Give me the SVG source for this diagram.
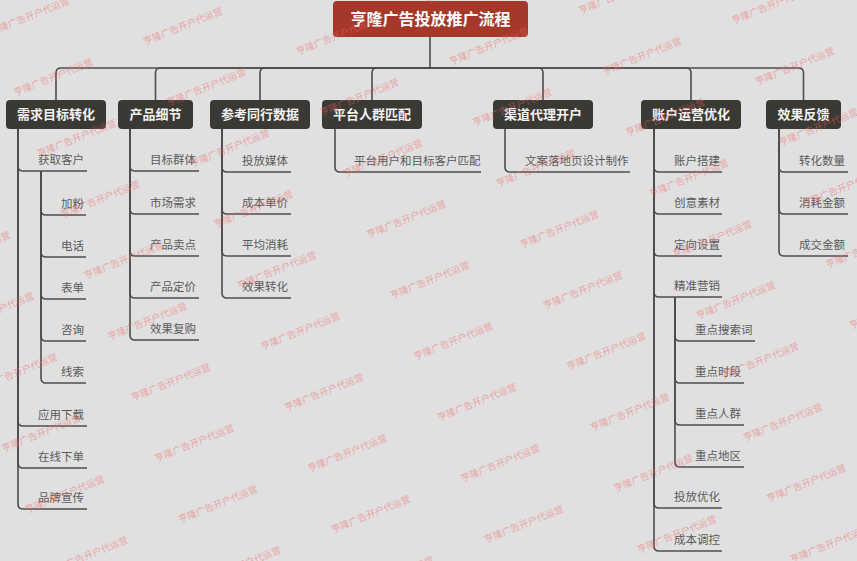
<svg xmlns="http://www.w3.org/2000/svg" width="857" height="561" viewBox="0 0 857 561">
<style>
.bg{fill:#e0e0e0}
.root rect{fill:#a6382a}
.root text{fill:#ffffff;font-family:"Noto Sans CJK SC",sans-serif;font-size:16px;font-weight:bold;text-anchor:middle}
.top rect{fill:#3a3934}
.top text{fill:#f2f2f2;font-family:"Noto Sans CJK SC",sans-serif;font-size:13px;font-weight:bold;text-anchor:middle}
.leaf text{fill:#5a5a5a;font-family:"Noto Sans CJK SC",sans-serif;font-size:11.5px}
.conn path{fill:none;stroke:#4d4d4d;stroke-width:1.6}
.wm text{fill:#f06464;fill-opacity:0.5;font-family:"Noto Sans CJK SC",sans-serif;font-size:9.4px}
</style>
<rect class="bg" x="0" y="0" width="857" height="561"/>

<g id="connectors" class="conn">
<path d="M430 37 V68"/>
<path d="M430 68 H61 Q56 68 56 73 V100"/>
<path d="M430 68 H160.5 Q155.5 68 155.5 73 V100"/>
<path d="M430 68 H265 Q260 68 260 73 V100"/>
<path d="M430 68 H377 Q372 68 372 73 V100"/>
<path d="M430 68 H538 Q543 68 543 73 V100"/>
<path d="M430 68 H686 Q691 68 691 73 V100"/>
<path d="M430 68 H798.5 Q803.5 68 803.5 73 V100"/>
<!-- col1 -->
<path d="M18 129 V166 Q18 171 23 171 H87"/>
<path d="M41 171 V210 Q41 215 46 215 H86"/>
<path d="M41 171 V252 Q41 257 46 257 H86"/>
<path d="M41 171 V294 Q41 299 46 299 H86"/>
<path d="M41 171 V336 Q41 341 46 341 H86"/>
<path d="M41 171 V378 Q41 383 46 383 H86"/>
<path d="M18 129 V421 Q18 426 23 426 H87"/>
<path d="M18 129 V463 Q18 468 23 468 H87"/>
<path d="M18 129 V504 Q18 509 23 509 H87"/>
<!-- col2 -->
<path d="M130 129 V166 Q130 171 135 171 H199"/>
<path d="M130 129 V209 Q130 214 135 214 H199"/>
<path d="M130 129 V251 Q130 256 135 256 H199"/>
<path d="M130 129 V293 Q130 298 135 298 H199"/>
<path d="M130 129 V335 Q130 340 135 340 H199"/>
<!-- col3 -->
<path d="M222 129 V167 Q222 172 227 172 H291"/>
<path d="M222 129 V209 Q222 214 227 214 H291"/>
<path d="M222 129 V251 Q222 256 227 256 H291"/>
<path d="M222 129 V293 Q222 298 227 298 H291"/>
<!-- col4 -->
<path d="M335 129 V167 Q335 172 340 172 H481"/>
<!-- col5 -->
<path d="M505 129 V167 Q505 172 510 172 H630"/>
<!-- col6 -->
<path d="M654 129 V167 Q654 172 659 172 H722"/>
<path d="M654 129 V209 Q654 214 659 214 H722"/>
<path d="M654 129 V251 Q654 256 659 256 H722"/>
<path d="M654 129 V292 Q654 297 659 297 H722"/>
<path d="M675 297 V336 Q675 341 680 341 H755"/>
<path d="M675 297 V378 Q675 383 680 383 H744"/>
<path d="M675 297 V420 Q675 425 680 425 H744"/>
<path d="M675 297 V462 Q675 467 680 467 H744"/>
<path d="M654 129 V503 Q654 508 659 508 H722"/>
<path d="M654 129 V546 Q654 551 659 551 H722"/>
<!-- col7 -->
<path d="M779 129 V167 Q779 172 784 172 H848"/>
<path d="M779 129 V209 Q779 214 784 214 H848"/>
<path d="M779 129 V251 Q779 256 784 256 H848"/>
</g>

<g id="root" class="root"><rect x="333" y="1" width="195" height="36" rx="4"/><text x="430.5" y="25">亨隆广告投放推广流程</text></g>

<g id="n1" class="top"><rect x="6" y="100" width="100" height="29" rx="4"/><text x="56" y="119">需求目标转化</text></g>
<g id="n2" class="top"><rect x="118" y="100" width="75" height="29" rx="4"/><text x="155.5" y="119">产品细节</text></g>
<g id="n3" class="top"><rect x="210" y="100" width="100" height="29" rx="4"/><text x="260" y="119">参考同行数据</text></g>
<g id="n4" class="top"><rect x="322" y="100" width="100" height="29" rx="4"/><text x="372" y="119">平台人群匹配</text></g>
<g id="n5" class="top"><rect x="493" y="100" width="100" height="29" rx="4"/><text x="543" y="119">渠道代理开户</text></g>
<g id="n6" class="top"><rect x="641" y="100" width="100" height="29" rx="4"/><text x="691" y="119">账户运营优化</text></g>
<g id="n7" class="top"><rect x="766" y="100" width="75" height="29" rx="4"/><text x="803.5" y="119">效果反馈</text></g>

<g class="leaf">
<g id="n1-1"><text x="38" y="164">获取客户</text></g>
<g id="n1-1-1"><text x="61" y="208">加粉</text></g>
<g id="n1-1-2"><text x="61" y="250">电话</text></g>
<g id="n1-1-3"><text x="61" y="292">表单</text></g>
<g id="n1-1-4"><text x="61" y="334">咨询</text></g>
<g id="n1-1-5"><text x="61" y="376">线索</text></g>
<g id="n1-2"><text x="38" y="419">应用下载</text></g>
<g id="n1-3"><text x="38" y="461">在线下单</text></g>
<g id="n1-4"><text x="38" y="502">品牌宣传</text></g>

<g id="n2-1"><text x="150" y="164">目标群体</text></g>
<g id="n2-2"><text x="150" y="207">市场需求</text></g>
<g id="n2-3"><text x="150" y="249">产品卖点</text></g>
<g id="n2-4"><text x="150" y="291">产品定价</text></g>
<g id="n2-5"><text x="150" y="333">效果复购</text></g>

<g id="n3-1"><text x="242" y="165">投放媒体</text></g>
<g id="n3-2"><text x="242" y="207">成本单价</text></g>
<g id="n3-3"><text x="242" y="249">平均消耗</text></g>
<g id="n3-4"><text x="242" y="291">效果转化</text></g>

<g id="n4-1"><text x="354" y="165">平台用户和目标客户匹配</text></g>
<g id="n5-1"><text x="525" y="165">文案落地页设计制作</text></g>

<g id="n6-1"><text x="674" y="165">账户搭建</text></g>
<g id="n6-2"><text x="674" y="207">创意素材</text></g>
<g id="n6-3"><text x="674" y="249">定向设置</text></g>
<g id="n6-4"><text x="674" y="290">精准营销</text></g>
<g id="n6-4-1"><text x="695" y="334">重点搜索词</text></g>
<g id="n6-4-2"><text x="695" y="376">重点时段</text></g>
<g id="n6-4-3"><text x="695" y="418">重点人群</text></g>
<g id="n6-4-4"><text x="695" y="460">重点地区</text></g>
<g id="n6-5"><text x="674" y="501">投放优化</text></g>
<g id="n6-6"><text x="674" y="544">成本调控</text></g>

<g id="n7-1"><text x="799" y="165">转化数量</text></g>
<g id="n7-2"><text x="799" y="207">消耗金额</text></g>
<g id="n7-3"><text x="799" y="249">成交金额</text></g>
</g>

<g id="watermark" class="wm">
<text x="427.5" y="4" transform="rotate(-22 427.5 4)">亨隆广告开户代运营</text>
<text x="580.5" y="14" transform="rotate(-22 580.5 14)">亨隆广告开户代运营</text>
<text x="733.5" y="24" transform="rotate(-22 733.5 24)">亨隆广告开户代运营</text>
<text x="-8" y="35" transform="rotate(-22 -8 35)">亨隆广告开户代运营</text>
<text x="145" y="45" transform="rotate(-22 145 45)">亨隆广告开户代运营</text>
<text x="298" y="55" transform="rotate(-22 298 55)">亨隆广告开户代运营</text>
<text x="451" y="65" transform="rotate(-22 451 65)">亨隆广告开户代运营</text>
<text x="604" y="75" transform="rotate(-22 604 75)">亨隆广告开户代运营</text>
<text x="757" y="85" transform="rotate(-22 757 85)">亨隆广告开户代运营</text>
<text x="15.5" y="96" transform="rotate(-22 15.5 96)">亨隆广告开户代运营</text>
<text x="168.5" y="106" transform="rotate(-22 168.5 106)">亨隆广告开户代运营</text>
<text x="321.5" y="116" transform="rotate(-22 321.5 116)">亨隆广告开户代运营</text>
<text x="474.5" y="126" transform="rotate(-22 474.5 126)">亨隆广告开户代运营</text>
<text x="627.5" y="136" transform="rotate(-22 627.5 136)">亨隆广告开户代运营</text>
<text x="780.5" y="146" transform="rotate(-22 780.5 146)">亨隆广告开户代运营</text>
<text x="39" y="157" transform="rotate(-22 39 157)">亨隆广告开户代运营</text>
<text x="192" y="167" transform="rotate(-22 192 167)">亨隆广告开户代运营</text>
<text x="345" y="177" transform="rotate(-22 345 177)">亨隆广告开户代运营</text>
<text x="498" y="187" transform="rotate(-22 498 187)">亨隆广告开户代运营</text>
<text x="651" y="197" transform="rotate(-22 651 197)">亨隆广告开户代运营</text>
<text x="804" y="207" transform="rotate(-22 804 207)">亨隆广告开户代运营</text>
<text x="62.5" y="218" transform="rotate(-22 62.5 218)">亨隆广告开户代运营</text>
<text x="215.5" y="228" transform="rotate(-22 215.5 228)">亨隆广告开户代运营</text>
<text x="368.5" y="238" transform="rotate(-22 368.5 238)">亨隆广告开户代运营</text>
<text x="521.5" y="248" transform="rotate(-22 521.5 248)">亨隆广告开户代运营</text>
<text x="674.5" y="258" transform="rotate(-22 674.5 258)">亨隆广告开户代运营</text>
<text x="827.5" y="268" transform="rotate(-22 827.5 268)">亨隆广告开户代运营</text>
<text x="-67" y="269" transform="rotate(-22 -67 269)">亨隆广告开户代运营</text>
<text x="86" y="279" transform="rotate(-22 86 279)">亨隆广告开户代运营</text>
<text x="239" y="289" transform="rotate(-22 239 289)">亨隆广告开户代运营</text>
<text x="392" y="299" transform="rotate(-22 392 299)">亨隆广告开户代运营</text>
<text x="545" y="309" transform="rotate(-22 545 309)">亨隆广告开户代运营</text>
<text x="698" y="319" transform="rotate(-22 698 319)">亨隆广告开户代运营</text>
<text x="851" y="329" transform="rotate(-22 851 329)">亨隆广告开户代运营</text>
<text x="-43.5" y="330" transform="rotate(-22 -43.5 330)">亨隆广告开户代运营</text>
<text x="109.5" y="340" transform="rotate(-22 109.5 340)">亨隆广告开户代运营</text>
<text x="262.5" y="350" transform="rotate(-22 262.5 350)">亨隆广告开户代运营</text>
<text x="415.5" y="360" transform="rotate(-22 415.5 360)">亨隆广告开户代运营</text>
<text x="568.5" y="370" transform="rotate(-22 568.5 370)">亨隆广告开户代运营</text>
<text x="721.5" y="380" transform="rotate(-22 721.5 380)">亨隆广告开户代运营</text>
<text x="-20" y="391" transform="rotate(-22 -20 391)">亨隆广告开户代运营</text>
<text x="133" y="401" transform="rotate(-22 133 401)">亨隆广告开户代运营</text>
<text x="286" y="411" transform="rotate(-22 286 411)">亨隆广告开户代运营</text>
<text x="439" y="421" transform="rotate(-22 439 421)">亨隆广告开户代运营</text>
<text x="592" y="431" transform="rotate(-22 592 431)">亨隆广告开户代运营</text>
<text x="745" y="441" transform="rotate(-22 745 441)">亨隆广告开户代运营</text>
<text x="3.5" y="452" transform="rotate(-22 3.5 452)">亨隆广告开户代运营</text>
<text x="156.5" y="462" transform="rotate(-22 156.5 462)">亨隆广告开户代运营</text>
<text x="309.5" y="472" transform="rotate(-22 309.5 472)">亨隆广告开户代运营</text>
<text x="462.5" y="482" transform="rotate(-22 462.5 482)">亨隆广告开户代运营</text>
<text x="615.5" y="492" transform="rotate(-22 615.5 492)">亨隆广告开户代运营</text>
<text x="768.5" y="502" transform="rotate(-22 768.5 502)">亨隆广告开户代运营</text>
<text x="27" y="513" transform="rotate(-22 27 513)">亨隆广告开户代运营</text>
<text x="180" y="523" transform="rotate(-22 180 523)">亨隆广告开户代运营</text>
<text x="333" y="533" transform="rotate(-22 333 533)">亨隆广告开户代运营</text>
<text x="486" y="543" transform="rotate(-22 486 543)">亨隆广告开户代运营</text>
<text x="639" y="553" transform="rotate(-22 639 553)">亨隆广告开户代运营</text>
<text x="792" y="563" transform="rotate(-22 792 563)">亨隆广告开户代运营</text>
<text x="50.5" y="574" transform="rotate(-22 50.5 574)">亨隆广告开户代运营</text>
<text x="203.5" y="584" transform="rotate(-22 203.5 584)">亨隆广告开户代运营</text>
<text x="356.5" y="594" transform="rotate(-22 356.5 594)">亨隆广告开户代运营</text>
</g>
</svg>
